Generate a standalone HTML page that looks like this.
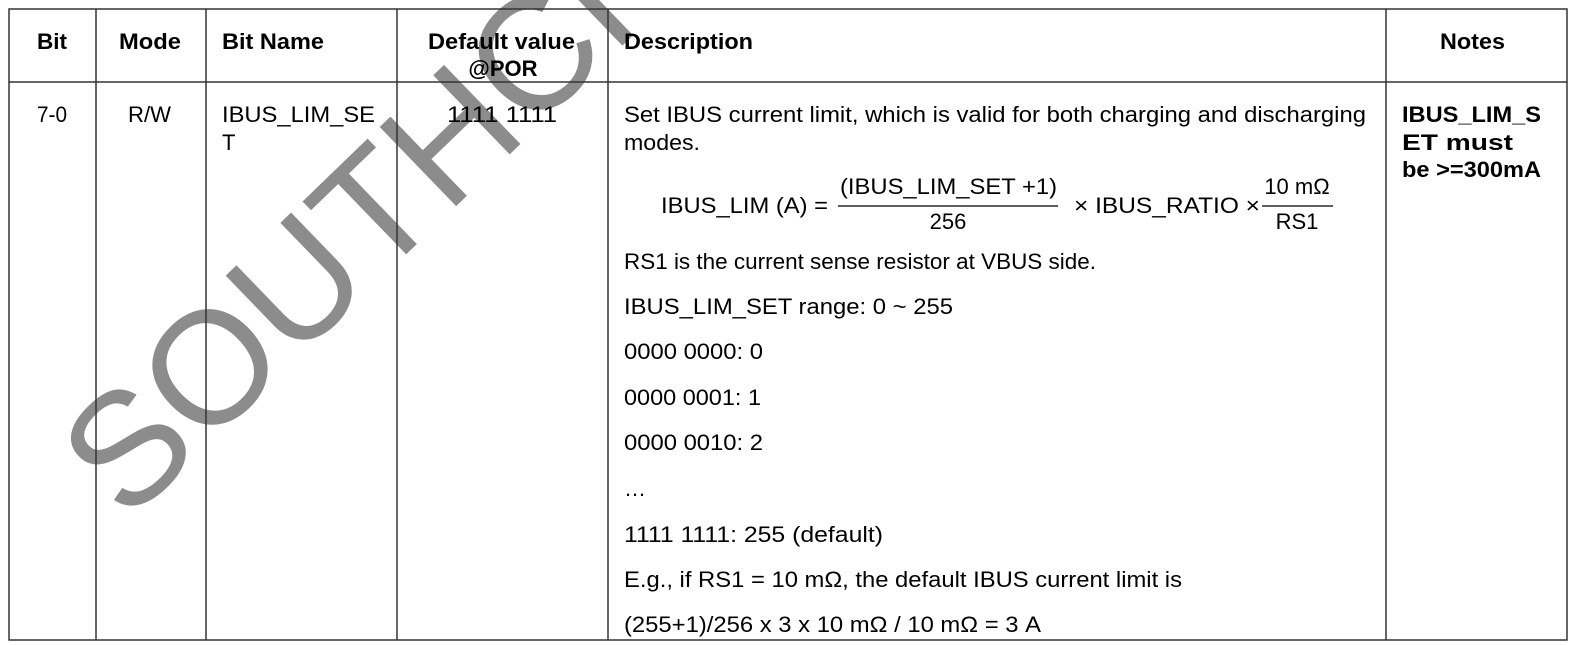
<!DOCTYPE html>
<html><head><meta charset="utf-8"><style>
html,body{margin:0;padding:0;background:#fff;width:1575px;height:645px;overflow:hidden}
svg{display:block}
text{font-family:"Liberation Sans",Arial,sans-serif;font-size:22px;fill:#000}
.b{font-weight:bold}
</style></head><body>
<svg width="1575" height="645" viewBox="0 0 1575 645" xmlns="http://www.w3.org/2000/svg">
<text x="127" y="524" transform="rotate(-44 127 524)" style="font-size:160px;fill:#8c8c8c">SOUTHCHIP</text>
<g stroke="#333" stroke-width="1.5" fill="none">
<rect x="9" y="9" width="1558" height="631"/>
<line x1="9" y1="82" x2="1567" y2="82"/>
<line x1="96" y1="9" x2="96" y2="640"/>
<line x1="206" y1="9" x2="206" y2="640"/>
<line x1="397" y1="9" x2="397" y2="640"/>
<line x1="608" y1="9" x2="608" y2="640"/>
<line x1="1386" y1="9" x2="1386" y2="640"/>
</g>
<text class="b" x="37" y="49" textLength="30" lengthAdjust="spacingAndGlyphs">Bit</text>
<text class="b" x="119" y="49" textLength="62" lengthAdjust="spacingAndGlyphs">Mode</text>
<text class="b" x="222" y="49" textLength="102" lengthAdjust="spacingAndGlyphs">Bit Name</text>
<text class="b" x="428" y="49" textLength="147" lengthAdjust="spacingAndGlyphs">Default value</text>
<text class="b" x="503" y="76" text-anchor="middle">@POR</text>
<text class="b" x="624" y="49" textLength="129" lengthAdjust="spacingAndGlyphs">Description</text>
<text class="b" x="1440" y="49" textLength="65" lengthAdjust="spacingAndGlyphs">Notes</text>
<text x="37" y="122" textLength="30" lengthAdjust="spacingAndGlyphs">7-0</text>
<text x="128" y="122" textLength="43" lengthAdjust="spacingAndGlyphs">R/W</text>
<text x="222" y="122" textLength="153" lengthAdjust="spacingAndGlyphs">IBUS_LIM_SE</text>
<text x="222" y="150">T</text>
<text x="447" y="122" textLength="110" lengthAdjust="spacingAndGlyphs">1111 1111</text>
<text class="b" x="1402" y="122" textLength="139" lengthAdjust="spacingAndGlyphs">IBUS_LIM_S</text>
<text class="b" x="1402" y="150" textLength="111" lengthAdjust="spacingAndGlyphs">ET must</text>
<text class="b" x="1402" y="177" textLength="139" lengthAdjust="spacingAndGlyphs">be &gt;=300mA</text>
<text x="624" y="122" textLength="742" lengthAdjust="spacingAndGlyphs">Set IBUS current limit, which is valid for both charging and discharging</text>
<text x="624" y="150" textLength="76" lengthAdjust="spacingAndGlyphs">modes.</text>
<text x="661" y="213" textLength="167" lengthAdjust="spacingAndGlyphs">IBUS_LIM (A) =</text>
<text x="840" y="194" textLength="217" lengthAdjust="spacingAndGlyphs">(IBUS_LIM_SET +1)</text>
<line x1="838" y1="206" x2="1058" y2="206" stroke="#000" stroke-width="1.3"/>
<text x="948" y="229" text-anchor="middle">256</text>
<text x="1074" y="213" textLength="186" lengthAdjust="spacingAndGlyphs">× IBUS_RATIO ×</text>
<text x="1297" y="194" text-anchor="middle">10 mΩ</text>
<line x1="1262" y1="206" x2="1333" y2="206" stroke="#000" stroke-width="1.3"/>
<text x="1297" y="229" text-anchor="middle">RS1</text>
<text x="624" y="269" textLength="472" lengthAdjust="spacingAndGlyphs">RS1 is the current sense resistor at VBUS side.</text>
<text x="624" y="314" textLength="329" lengthAdjust="spacingAndGlyphs">IBUS_LIM_SET range: 0 ~ 255</text>
<text x="624" y="359" textLength="139" lengthAdjust="spacingAndGlyphs">0000 0000: 0</text>
<text x="624" y="405" textLength="137" lengthAdjust="spacingAndGlyphs">0000 0001: 1</text>
<text x="624" y="450" textLength="139" lengthAdjust="spacingAndGlyphs">0000 0010: 2</text>
<text x="624" y="496">…</text>
<text x="624" y="542" textLength="259" lengthAdjust="spacingAndGlyphs">1111 1111: 255 (default)</text>
<text x="624" y="587" textLength="558" lengthAdjust="spacingAndGlyphs">E.g., if RS1 = 10 mΩ, the default IBUS current limit is</text>
<text x="624" y="632" textLength="417" lengthAdjust="spacingAndGlyphs">(255+1)/256 x 3 x 10 mΩ / 10 mΩ = 3 A</text>
</svg>
</body></html>
